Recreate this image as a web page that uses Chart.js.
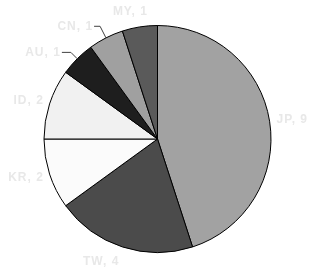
<!DOCTYPE html>
<html>
<head>
<meta charset="utf-8">
<script src="https://cdn.jsdelivr.net/npm/chart.js@4"></script>
<style>
  html, body { margin: 0; padding: 0; background: #ffffff; }
  #wrap { width: 311px; height: 274px; }
</style>
</head>
<body>
<div id="wrap"><canvas id="pie" width="311" height="274"></canvas></div>
<script>
// Chart data
const countries = ['JP', 'TW', 'KR', 'ID', 'AU', 'CN', 'MY'];
const counts = [9, 4, 2, 2, 1, 1, 1];
const sliceColors = ['#a2a2a2', '#4b4b4b', '#fbfbfb', '#f1f1f1', '#1e1e1e', '#a0a0a0', '#5a5a5a'];

// label placement tweaks: extra radius, angle nudge (deg), leader length
const labelLayout = {
    ext:  [6, 10, 6, 6, 9, 13, 9],
    rot:  [0, 0, 0, 0, 0, 0, 4.5],
    lead: [0, 0, 0, 0, 9, 6, 0]
};

// Draw "XX, n" labels outside the slices
const outsideLabels = {
    id: 'outsideLabels',
    afterDatasetsDraw(chart) {
        const ctx = chart.ctx;
        const arcs = chart.getDatasetMeta(0).data;
        ctx.save();
        ctx.font = 'bold 12px "Liberation Sans", Arial, sans-serif';
        ctx.letterSpacing = '1px';
        ctx.textBaseline = 'middle';
        arcs.forEach((arc, i) => {
            const mid = (arc.startAngle + arc.endAngle) / 2 + labelLayout.rot[i] * Math.PI / 180;
            const dx = Math.cos(mid), dy = Math.sin(mid);
            const r = arc.outerRadius + labelLayout.ext[i];
            const ex = arc.x + dx * r, ey = arc.y + dy * r;
            const lead = labelLayout.lead[i];
            const ty = ey + (lead ? 0 : dy * 5);
            const left = dx < 0;

            if (lead) {
                const rr = arc.outerRadius;
                const am = (arc.startAngle + arc.endAngle) / 2;
                ctx.strokeStyle = '#404040';
                ctx.lineWidth = 1;
                ctx.beginPath();
                ctx.moveTo(arc.x + Math.cos(am) * rr, arc.y + Math.sin(am) * rr);
                ctx.lineTo(ex, ey);
                ctx.lineTo(ex + (left ? -lead : lead), ey);
                ctx.stroke();
            }

            const tx = ex + (left ? -(lead ? lead + 1 : 0) : (lead ? lead + 1 : 1));
            ctx.textAlign = left ? 'right' : 'left';
            ctx.fillStyle = '#e8e8e8';
            ctx.fillText(countries[i] + ', ' + counts[i], tx, ty);
        });
        ctx.restore();
    }
};

new Chart(document.getElementById('pie').getContext('2d'), {
    type: 'pie',
    data: {
        labels: countries,
        datasets: [{
            data: counts,
            backgroundColor: sliceColors,
            borderColor: '#000000',
            borderWidth: 1
        }]
    },
    options: {
        responsive: false,
        animation: false,
        layout: { padding: { top: 25, bottom: 21, left: 4, right: 0 } },
        plugins: {
            legend: { display: false },
            tooltip: { enabled: false }
        }
    },
    plugins: [outsideLabels]
});
</script>
</body>
</html>
